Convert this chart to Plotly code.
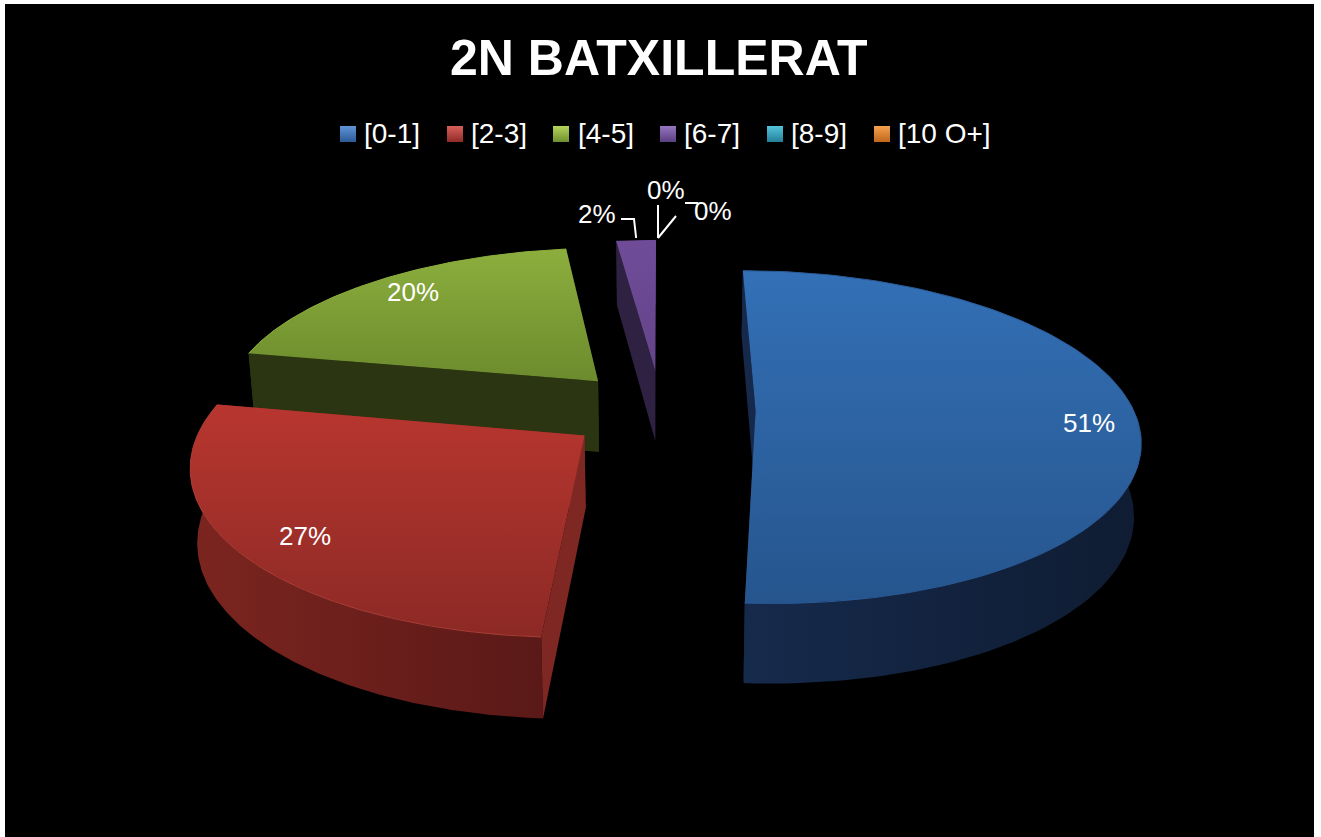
import numpy as np
import plotly.graph_objects as go

# ---- data ----
title = "2N BATXILLERAT"
categories = ["[0-1]", "[2-3]", "[4-5]", "[6-7]", "[8-9]", "[10 O+]"]
values = [51, 27, 20, 2, 0, 0]
percent_labels = ["51%", "27%", "20%", "2%", "0%", "0%"]

# ---- style ----
FONT = "Liberation Sans"
top_colors = [("#3370b6", "#26558d"), ("#b8362f", "#8c2925"), ("#8cae3d", "#6c8b2d"), ("#704c98", "#64448a")]
wall_colors = [("#162a4c", "#0f1c32"), ("#7c2520", "#5a1917"), ("#2c3511", "#2c3511"), ("#2e2142", "#2e2142")]
face_colors = ["#16294a", "#7f2723", "#2c3511", "#2e2142"]
rim_colors = ["#2a5a98", "#ab3d36", "#8cae3d", "#704c98"]
legend_colors = [("#5f95d8", "#2c5a96"), ("#d8605a", "#8f2b27"), ("#b4d45c", "#6f8f2f"),
                 ("#9676c0", "#5a3f80"), ("#55c4dc", "#237f99"), ("#f5a24e", "#c0661a")]
legend_marker_x = [348, 455, 561, 668, 775, 882]
legend_text_x = [362, 469, 576, 682, 789, 896]
label_pos = [(1089, 423), (305, 536), (413, 292), (597, 214), (666, 190), (713, 211)]

# ---- projection of the exploded, tilted disc to the page ----
X0, Y0, A, B, P = 661.0, 410.0, 378.0, 162.0, 0.155
EXPLODE, DEPTH = 0.25, 72.0


def project(X, Y, bottom=False):
    X, Y = np.asarray(X, float), np.asarray(Y, float)
    w = 1 + P * Y
    x = X0 + A * X / w
    y = Y0 - B * Y / w
    if bottom:
        x = X0 + (x - X0) * 0.985
        y = y + DEPTH / (1 + 0.1 * Y)
    return x, y


def poly(xs, ys, grad, kind):
    start, stop = (min(ys), max(ys)) if kind == "vertical" else (min(xs), max(xs))
    return go.Scatter(x=xs, y=ys, mode="lines", line=dict(width=0), fill="toself",
                      fillgradient=dict(type=kind, colorscale=[[0, grad[0]], [1, grad[1]]],
                                        start=start, stop=stop),
                      hoverinfo="skip", showlegend=False)


fig = go.Figure()
total = sum(values)
starts = np.cumsum([0] + values[:-1]) / total * 2 * np.pi
sweeps = np.array(values) / total * 2 * np.pi
apexes = []
for s, d in zip(starts, sweeps):
    mid = s + d / 2
    apexes.append((EXPLODE * np.sin(mid), EXPLODE * np.cos(mid)))

# back-to-front: the small wedge first, the big front ones last
for i in [3, 2, 1, 0]:
    s, d = starts[i], sweeps[i]
    ax, ay = apexes[i]
    th = np.linspace(s, s + d, 140)
    RX, RY = ax + np.sin(th), ay + np.cos(th)
    tx, ty = project(RX, RY)
    bx, by = project(RX, RY, True)
    # outer wall
    fig.add_trace(poly(list(tx) + list(bx[::-1]), list(ty) + list(by[::-1]),
                       wall_colors[i], "horizontal"))
    # the two cut faces
    apx, apy = project(ax, ay)
    apbx, apby = project(ax, ay, True)
    for k in (0, -1):
        fig.add_trace(go.Scatter(x=[apx, tx[k], bx[k], apbx, apx], y=[apy, ty[k], by[k], apby, apy],
                                 mode="lines", line=dict(width=0), fill="toself",
                                 fillcolor=face_colors[i], hoverinfo="skip", showlegend=False))
    # top surface
    fig.add_trace(poly([apx] + list(tx) + [apx], [apy] + list(ty) + [apy], top_colors[i], "vertical"))
    # bright rim
    fig.add_trace(go.Scatter(x=tx, y=ty, mode="lines", line=dict(width=1, color=rim_colors[i]),
                             hoverinfo="skip", showlegend=False))

# leader lines for the small slices
r2x, r2y = project(apexes[3][0] + np.sin(starts[3] + sweeps[3] / 2), apexes[3][1] + np.cos(starts[3] + sweeps[3] / 2))
fig.add_trace(go.Scatter(x=[621, 634, float(r2x)], y=[219, 219, 238], mode="lines",
                         line=dict(color="white", width=2), hoverinfo="skip", showlegend=False))
fig.add_trace(go.Scatter(x=[658, 658, None, 658, 676, None, 685, 698],
                         y=[205, 238, None, 238, 216, None, 203, 203], mode="lines",
                         line=dict(color="white", width=2), hoverinfo="skip", showlegend=False))

# legend drawn as markers and text
for i, c in enumerate(categories):
    fig.add_trace(go.Scatter(x=[legend_marker_x[i]], y=[134], mode="markers",
                             marker=dict(symbol="square", size=16, color=legend_colors[i][0],
                                         gradient=dict(type="vertical", color=legend_colors[i][1]),
                                         line=dict(width=0)),
                             hoverinfo="skip", showlegend=False))

annotations = [dict(x=659, y=58, text=f"<b>{title}</b>", font=dict(family=FONT, size=50, color="white"))]
for i, c in enumerate(categories):
    annotations.append(dict(x=legend_text_x[i], y=133, text=c, xanchor="left",
                            font=dict(family=FONT, size=28, color="white")))
for (x, y), t in zip(label_pos, percent_labels):
    annotations.append(dict(x=x, y=y, text=t, font=dict(family=FONT, size=26, color="white")))
for a in annotations:
    a.update(xref="x", yref="y", showarrow=False)
    a.setdefault("xanchor", "center")
    a["yanchor"] = "middle"

fig.update_layout(
    width=1321, height=837, autosize=False,
    margin=dict(l=5, r=7, t=4, b=0, pad=0),
    paper_bgcolor="white", plot_bgcolor="black",
    xaxis=dict(range=[5, 1314], visible=False, fixedrange=True),
    yaxis=dict(range=[837, 4], visible=False, fixedrange=True),
    annotations=annotations, showlegend=False,
)
fig.write_html("out.html", config=dict(displayModeBar=False),
               post_script="document.body.style.margin='0';document.body.style.overflow='hidden';")
